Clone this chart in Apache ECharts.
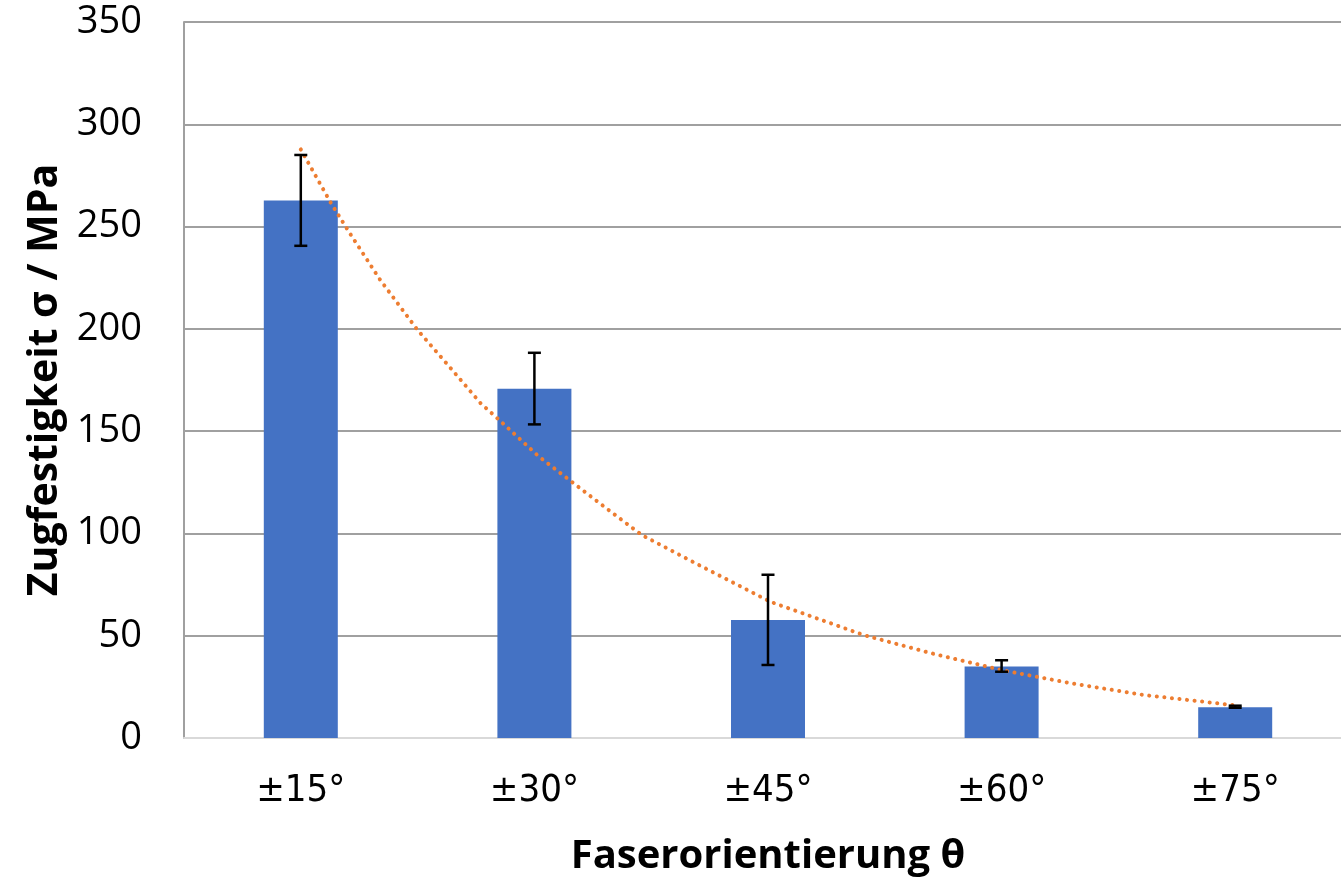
<!DOCTYPE html>
<html>
<head>
<meta charset="utf-8">
<script src="https://cdn.jsdelivr.net/npm/echarts@6/dist/echarts.min.js"></script>
<style>
html,body{margin:0;padding:0;background:#fff;overflow:hidden;}
#c{width:1352px;height:884px;}
</style>
</head>
<body>
<div id="c"></div>
<script>
const categories = ['±15°', '±30°', '±45°', '±60°', '±75°'];
const strength = [262.8, 170.7, 57.7, 35.0, 15.0];
const errLow = [240.6, 153.3, 35.7, 32.4, 14.8];
const errHigh = [285.0, 188.3, 79.8, 38.0, 15.8];
// trend line: [category position, value]
const trendX = [0.00, 0.13, 0.21, 0.34, 0.50, 0.63, 0.77, 0.85, 1.02, 1.28, 1.46, 1.69, 2.01, 2.41, 2.70, 3.00, 3.30, 3.61, 3.99];
const trendY = [287.7, 261.3, 246.7, 223.9, 199.4, 182.3, 163.6, 155.4, 137.5, 114.7, 99.2, 85.4, 66.6, 50.3, 41.4, 33.2, 26.7, 21.0, 16.1];
const yTicks = {min: 0, max: 350, interval: 50};

const chart = echarts.init(document.getElementById('c'), null, {renderer: 'canvas'});
const trendData = trendX.map((x, i) => [x, trendY[i]]);
const errData = categories.map((c, i) => [i, errLow[i], errHigh[i]]);

chart.setOption({
  animation: false,
  backgroundColor: '#ffffff',
  grid: {left: 184, top: 22, right: 0, bottom: 146, containLabel: false},
  xAxis: [{
    type: 'category',
    data: categories,
    axisLine: {show: true, onZero: false, lineStyle: {color: '#d9d9d9', width: 2}},
    axisTick: {show: false},
    axisLabel: {margin: 34, fontSize: 38, color: '#000', fontFamily: '"Liberation Sans Narrow", "DejaVu Sans Condensed", "Open Sans", sans-serif'},
    name: 'Faserorientierung θ',
    nameLocation: 'middle',
    nameGap: 99,
    nameTextStyle: {fontSize: 40, fontWeight: 'bold', color: '#000', fontFamily: '"Open Sans", sans-serif'}
  }, {
    type: 'value',
    min: -0.5,
    max: 4.5,
    show: false
  }],
  yAxis: {
    type: 'value',
    min: yTicks.min,
    max: yTicks.max,
    interval: yTicks.interval,
    axisLine: {show: true, onZero: false, lineStyle: {color: '#a0a0a0', width: 2}},
    axisTick: {show: false},
    splitLine: {lineStyle: {color: '#a0a0a0', width: 2}},
    axisLabel: {margin: 42, fontSize: 38, color: '#000', fontFamily: '"Open Sans", sans-serif'},
    name: 'Zugfestigkeit σ / MPa',
    nameLocation: 'middle',
    nameGap: 115,
    nameRotate: 90,
    nameTextStyle: {fontSize: 41, fontWeight: 'bold', color: '#000', fontFamily: '"Open Sans", sans-serif'}
  },
  series: [{
    type: 'bar',
    data: strength,
    barWidth: 74,
    itemStyle: {color: '#4472C4'},
    z: 2
  }, {
    type: 'line',
    xAxisIndex: 1,
    data: trendData,
    smooth: false,
    showSymbol: false,
    lineStyle: {color: '#ED7D31', width: 4, type: [0.1, 7.5], cap: 'round', join: 'round'},
    z: 4
  }, {
    type: 'custom',
    data: errData,
    z: 5,
    renderItem: function (params, api) {
      const i = api.value(0);
      const lo = api.coord([i, api.value(1)]);
      const hi = api.coord([i, api.value(2)]);
      const hw = 6.5;
      const st = {stroke: '#000', lineWidth: 2.5};
      return {
        type: 'group',
        children: [
          {type: 'line', shape: {x1: lo[0], y1: lo[1], x2: hi[0], y2: hi[1]}, style: st},
          {type: 'line', shape: {x1: lo[0] - hw, y1: lo[1], x2: lo[0] + hw, y2: lo[1]}, style: st},
          {type: 'line', shape: {x1: hi[0] - hw, y1: hi[1], x2: hi[0] + hw, y2: hi[1]}, style: st}
        ]
      };
    }
  }]
});
</script>
</body>
</html>
